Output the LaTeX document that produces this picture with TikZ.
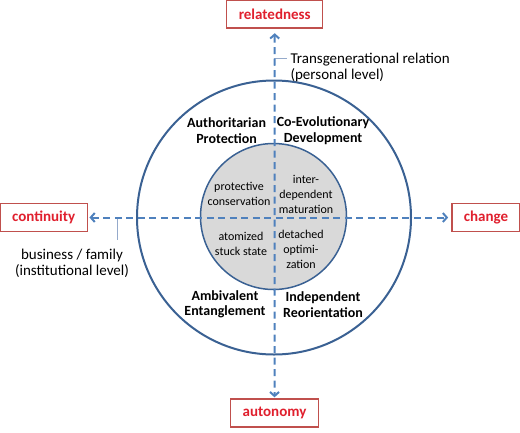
\documentclass[tikz,border=0pt]{standalone}
\usepackage{fontspec}
\setmainfont{Carlito}
\usetikzlibrary{arrows.meta}

\definecolor{ringblue}{HTML}{3A6193}
\definecolor{axisblue}{HTML}{4F81BD}
\definecolor{boxred}{HTML}{C0504D}
\definecolor{textred}{HTML}{E0202E}
\definecolor{coregray}{HTML}{D9D9D9}
\definecolor{leadgray}{HTML}{95AACB}

\tikzset{
  pole/.style={draw=boxred, line width=1.4pt, fill=white, text=textred,
    font=\fontsize{15}{17}\selectfont\bfseries, minimum height=28pt,
    inner xsep=12pt, inner ysep=0pt},
  axis/.style={draw=axisblue, line width=2pt, dash pattern=on 7pt off 4.5pt,
    {Straight Barb[length=4pt,width=9pt]}-{Straight Barb[length=4pt,width=9pt]}},
  quad/.style={align=center, font=\fontsize{14}{15.5}\selectfont\bfseries},
  core/.style={align=center, font=\fontsize{12}{15}\selectfont},
  note/.style={align=center, font=\fontsize{15}{16}\selectfont},
  leader/.style={draw=leadgray, line width=0.8pt},
}

\begin{document}
\begin{tikzpicture}[x=1pt, y=-1pt]
  \useasboundingbox (0,0) rectangle (520,432);

  % rings
  \node [circle, draw=ringblue, line width=2pt, minimum size=274pt, inner sep=0pt](outer) at (274,217.5) {};
  \node [circle, draw=ringblue, line width=1.5pt, fill=coregray, minimum size=146pt, inner sep=0pt](core) at (273.5,216.5) {};

  % poles
  \node [pole](related) at (274.7,14) {relatedness};
  \node [pole](autonomy) at (274.5,413) {autonomy};
  \node [pole](continuity) at (43.7,217.5) {continuity};
  \node [pole](change) at (486,217.5) {change};

  % leader lines of the two axes
  \coordinate (tgbend) at (274.5,58.5);
  \coordinate (tgfoot) at (274.5,66);
  \coordinate (bfhead) at (117,218);
  \coordinate (bffoot) at (117,240);

  % input nodes position and text
  \node [note, align=left, anchor=west](personal) at (287,67.5) {Transgenerational relation\\(personal level)};
  \node [note](institution) at (72,263.5) {business / family\\(institutional level)};

  \draw[leader] (tgfoot) -- (tgbend) -- (tgbend -| personal.west);
  \draw[leader] (bfhead) -- (bffoot);

  \draw[axis, shorten <=4.5pt, shorten >=1pt] (related) -- (autonomy);
  \draw[axis, shorten <=1.5pt, shorten >=3pt] (continuity) -- (change);

  \node [quad](authprot) at (226.6,130.5) {Authoritarian\\Protection};
  \node [quad](coevo) at (323,130.5) {Co-Evolutionary\\Development};
  \node [quad](ambiv) at (225,304.5) {Ambivalent\\Entanglement};
  \node [quad](indep) at (323,304.5) {Independent\\Reorientation};

  \node [core](protect) at (239,194) {protective\\conservation};
  \node [core](interdep) at (306,194.5) {inter-\\dependent\\maturation};
  \node [core](atomize) at (241,244) {atomized\\stuck state};
  \node [core](detach) at (301,249) {detached\\optimi-\\zation};
\end{tikzpicture}
\end{document}
